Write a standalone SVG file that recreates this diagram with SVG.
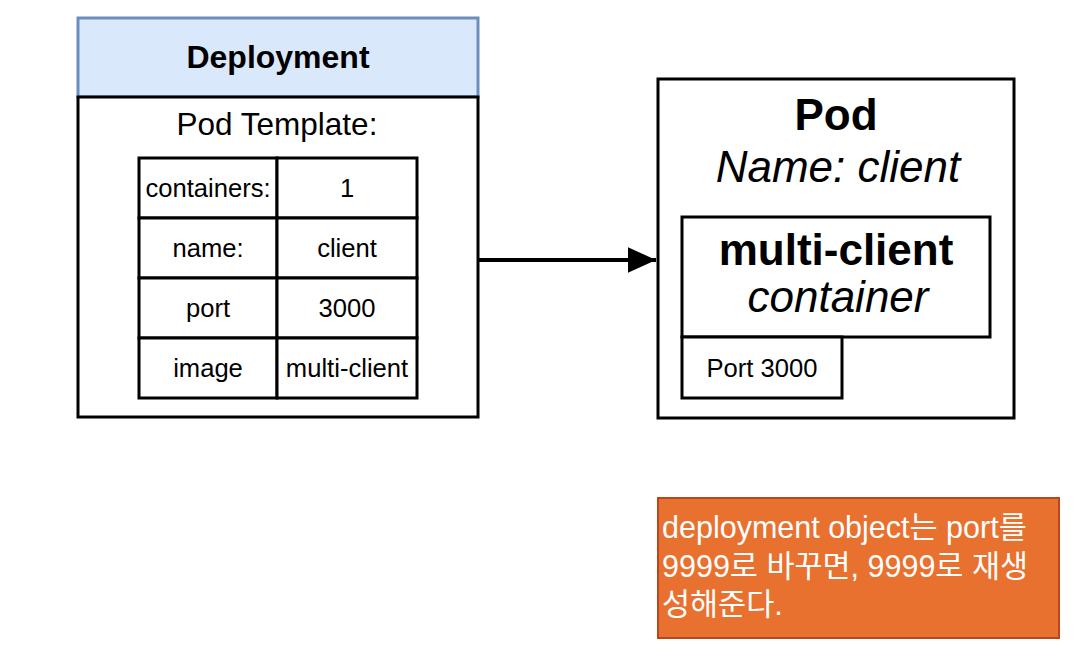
<svg xmlns="http://www.w3.org/2000/svg" width="1086" height="666" viewBox="0 0 1086 666">
<style>
text{font-family:"Liberation Sans",Arial,Helvetica,"Noto Sans CJK KR",sans-serif;fill:#000}
.box{fill:#fff;stroke:#000;stroke-width:3}
.cell{font-size:25.6px;text-anchor:middle}
.big{font-size:44px;text-anchor:middle}
.b{font-weight:bold}
.i{font-style:italic}
.note{font-size:30.5px;fill:#fff}
</style>
<defs>
<marker id="arr" markerWidth="8" markerHeight="8" refX="7" refY="4" orient="auto" markerUnits="strokeWidth">
<path d="M0,0.8 L7,4 L0,7.2 Z" fill="#000"/>
</marker>
</defs>
<g id="deployment">
<rect x="78" y="18" width="400" height="79" fill="#dae8fc" stroke="#6c8ebf" stroke-width="3"/>
<rect class="box" x="78" y="97" width="400" height="320"/>
<text x="278" y="68" font-size="32px" font-weight="bold" text-anchor="middle">Deployment</text>
<text x="277" y="135" font-size="31.5px" text-anchor="middle">Pod Template:</text>
</g>
<g id="table">
<rect class="box" x="139" y="158" width="138" height="60"/>
<rect class="box" x="277" y="158" width="140" height="60"/>
<rect class="box" x="139" y="218" width="138" height="60"/>
<rect class="box" x="277" y="218" width="140" height="60"/>
<rect class="box" x="139" y="278" width="138" height="60"/>
<rect class="box" x="277" y="278" width="140" height="60"/>
<rect class="box" x="139" y="338" width="138" height="60"/>
<rect class="box" x="277" y="338" width="140" height="60"/>
<text class="cell" x="208" y="197">containers:</text>
<text class="cell" x="347" y="197">1</text>
<text class="cell" x="208" y="257">name:</text>
<text class="cell" x="347" y="257">client</text>
<text class="cell" x="208" y="317">port</text>
<text class="cell" x="347" y="317">3000</text>
<text class="cell" x="208" y="377">image</text>
<text class="cell" x="347" y="377">multi-client</text>
</g>
<g id="pod">
<rect class="box" x="658" y="79" width="356" height="339"/>
<text class="big b" x="836" y="130">Pod</text>
<text class="big i" x="838" y="182">Name: client</text>
</g>
<g id="container">
<rect class="box" x="682" y="217" width="308" height="120"/>
<text class="big b" x="836" y="265">multi-client</text>
<text class="big i" x="838" y="312">container</text>
</g>
<g id="port">
<rect class="box" x="682" y="337" width="160" height="61"/>
<text class="cell" x="762" y="377">Port 3000</text>
</g>
<g id="note">
<rect x="658" y="498" width="401" height="140" fill="#e9712f" stroke="#b9461c" stroke-width="2"/>
<text class="note" x="662" y="538">deployment object는 port를</text>
<text class="note" x="662" y="577">9999로 바꾸면, 9999로 재생</text>
<text class="note" x="662" y="615">성해준다.</text>
</g>
<g id="connectors">
<line x1="479" y1="260" x2="656" y2="260" stroke="#000" stroke-width="4" marker-end="url(#arr)"/>
</g>
</svg>
